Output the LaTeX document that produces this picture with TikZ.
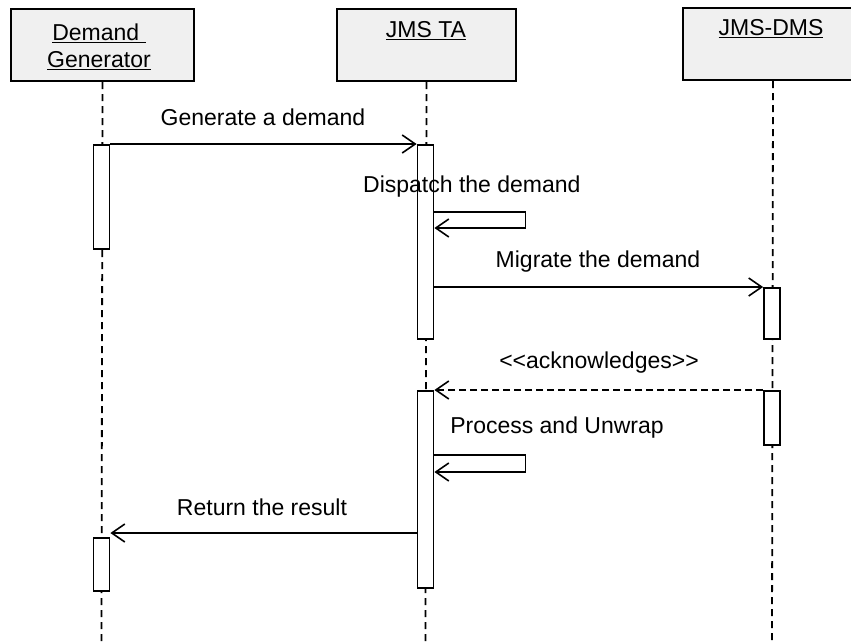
\documentclass[tikz,border=0pt]{standalone}
\usepackage{fontspec}
\setmainfont{Liberation Sans}
\usetikzlibrary{arrows.meta}
\begin{document}
\begin{tikzpicture}[x=1pt,y=-1pt,
  head/.style={draw=black, line width=2pt, fill=gray!12, inner sep=0pt},
  lbl/.style={font=\fontsize{23}{27}\selectfont, inner sep=0pt},
  bar/.style={draw=black, line width=1.8pt, fill=white, minimum width=16pt, inner sep=0pt},
  life/.style={line width=1.8pt, dash pattern=on 7pt off 5pt},
  msg/.style={line width=1.6pt, -{Straight Barb[length=13pt,width=18pt]}},
  reply/.style={msg, dash pattern=on 7pt off 4pt},
]
\clip (0,0) rectangle (851,641);
\fill[white] (0,0) rectangle (851,641);

% object headers
\node[head, minimum width=183pt, minimum height=72pt, anchor=north west] (hg) at (10,8) {};
\node[head, minimum width=179pt, minimum height=72pt, anchor=north west] (ht) at (336,8) {};
\node[head, minimum width=180pt, minimum height=72pt, anchor=north west] (hd) at (682,7) {};
\node[lbl, align=center] (tg) at (99,47) {\underline{Demand\ }\\\underline{Generator}};
\node[lbl] (tt) at (426,31) {\underline{JMS TA}};
\node[lbl] (td) at (771,29) {\underline{JMS-DMS}};

% lifelines
\coordinate (eg) at (101.5,641);
\coordinate (et) at (425.5,641);
\coordinate (ed) at (772,641);
\draw[life] (hg.south) -- (eg);
\draw[life] (ht.south) -- (et);
\draw[life] (hd.south) -- (ed);

% activation bars
\node[bar, minimum height=104pt, anchor=north] (g1) at (101.5,144) {};
\node[bar, minimum height=53pt,  anchor=north] (g2) at (101.5,537) {};
\node[bar, minimum height=194pt, anchor=north] (t1) at (425.5,144) {};
\node[bar, minimum height=197pt, anchor=north] (t2) at (425.5,390) {};
\node[bar, minimum height=51pt,  anchor=north] (d1) at (772,287) {};
\node[bar, minimum height=54pt,  anchor=north] (d2) at (772,390) {};

% messages
\draw[msg] (g1.north east) -- (t1.north west);
\draw[msg] (t1.north east) ++(0,68) -- ++(91,0) -- ++(0,16) -- ++(-91,0);
\draw[msg] (t1.east |- d1.north) -- (d1.north west);
\draw[reply] (d2.north west) -- (t2.north east);
\draw[msg] (t2.north east) ++(0,65) -- ++(91,0) -- ++(0,17) -- ++(-91,0);
\draw[msg] (t2.north west) ++(0,143) coordinate (r0) -- (r0 -| g2.east);

% message labels
\node[lbl] (mgen) at (263,117) {Generate a demand};
\node[lbl, anchor=west] (mdis) at (363,187) {Dispatch the demand};
\node[lbl] (mmig) at (598,262) {Migrate the demand};
\node[lbl] (mack) at (599,363) {<{}<acknowledges>{}>};
\node[lbl] (mpro) at (557,428) {Process and Unwrap};
\node[lbl] (mret) at (262,507) {Return the result};
\end{tikzpicture}
\end{document}
